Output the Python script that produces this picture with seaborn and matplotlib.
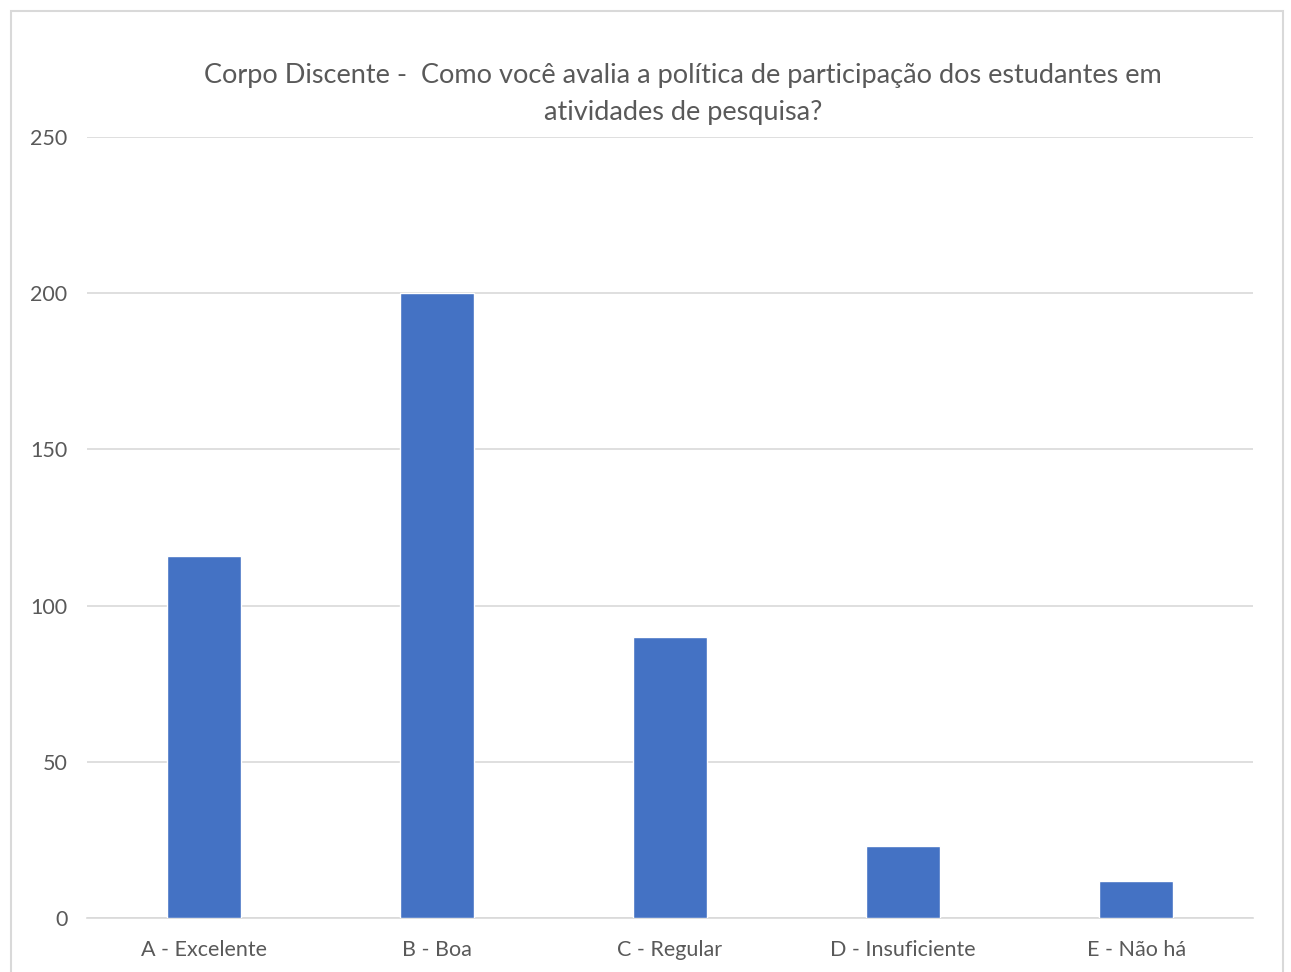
import matplotlib
matplotlib.use("Agg")
import matplotlib.pyplot as plt
import matplotlib.patches as mpatches
import pandas as pd
import seaborn as sns

categories = ["A - Excelente", "B - Boa", "C - Regular", "D - Insuficiente", "E - Não há"]
values = [116, 200, 90, 23, 12]
yticks = [0, 50, 100, 150, 200, 250]
title = "Corpo Discente -  Como você avalia a política de participação dos estudantes em\natividades de pesquisa?"

sns.set_style("white")
plt.rcParams["font.family"] = ["Lato", "DejaVu Sans"]

df = pd.DataFrame({"cat": categories, "val": values})

fig = plt.figure(figsize=(12.91, 9.72), dpi=100)
ax = fig.add_axes([87 / 1291, 1 - 918 / 972, (1253 - 87) / 1291, (918 - 137) / 972])

sns.barplot(data=df, x="cat", y="val", color="#4472C4", saturation=1, width=0.317, ax=ax, zorder=3)

ax.set_ylim(0, 250)
ax.set_xlim(-0.5, 4.5)
ax.set_yticks(yticks)
ax.yaxis.grid(True, color="#d9d9d9", linewidth=1.2, zorder=0)
ax.set_axisbelow(True)
for s in ["top", "right", "left"]:
    ax.spines[s].set_visible(False)
ax.spines["bottom"].set_color("#d9d9d9")
ax.spines["bottom"].set_linewidth(1.2)
ax.tick_params(axis="both", length=0, labelsize=15.5, colors="#595959", pad=14)
ax.tick_params(axis="x", pad=16)
ax.set_xlabel("")
ax.set_ylabel("")

fig.text(683 / 1291, 1 - 94 / 972, title, ha="center", va="center", fontsize=19.5,
         color="#595959", linespacing=1.6)

# outer chart frame
fig.patches.append(mpatches.Rectangle((11 / 1291, -0.05), (1283 - 11) / 1291, 1.05 - 11 / 972,
                                      transform=fig.transFigure, fill=False,
                                      edgecolor="#d9d9d9", linewidth=1.5))

fig.savefig("out.png", dpi=100)
